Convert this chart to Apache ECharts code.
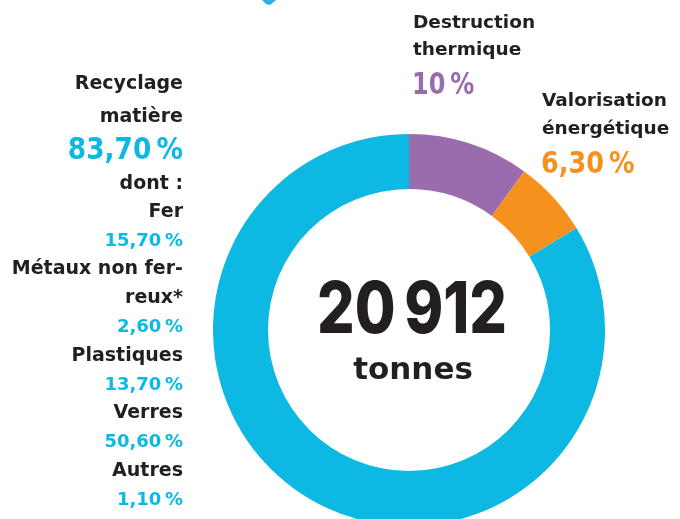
<!DOCTYPE html>
<html><head><meta charset="utf-8">
<script src="https://cdn.jsdelivr.net/npm/echarts@6/dist/echarts.min.js"></script>
<style>html,body{margin:0;padding:0;background:#fff}#c{width:680px;height:519px}</style>
</head><body><div id="c"></div>
<script>
// Data
const categories = ['Destruction thermique', 'Valorisation énergétique', 'Recyclage matière'];
const shares = [10, 6.3, 83.7];
const colors = ['#9B6CAD', '#F5921E', '#0DB8E2'];
const totalTonnes = '20\u2009912';
const totalUnit = 'tonnes';
const subCategories = ['Fer', 'Métaux non fer-\nreux*', 'Plastiques', 'Verres', 'Autres'];
const subShares = [15.7, 2.6, 13.7, 50.6, 1.1];

const DARK = '#231F20';
const FONT = '"DejaVu Sans", sans-serif';
function pct(v) {
  const s = Number.isInteger(v) ? String(v) : v.toFixed(2).replace('.', ',');
  return s + '\u202F%';
}
function txt(x, y, text, size, color, align, sx, family, weight) {
  return { type: 'text', x: x, y: y, scaleX: sx || 1, style: { text: text, fontSize: size, fontWeight: weight || 'bold', fontFamily: family || FONT, fill: color, textAlign: align, textVerticalAlign: 'middle' } };
}
function fitScale(text, font, target) {
  const ctx = document.createElement('canvas').getContext('2d');
  ctx.font = font;
  const w = ctx.measureText(text).width;
  return Math.min(1, target / w);
}

const g = [];
// left block (right aligned)
const LX = 183;
const leftLines = [
  ['Recyclage', 84, 19, DARK, 1],
  ['matière', 117, 19, DARK, 1],
  [pct(shares[2]), 151, 30, colors[2], 0.88],
  ['dont :', 184, 19, DARK, 1]
];
let y = 212;
subCategories.forEach((name, i) => {
  name.split('\n').forEach(part => { leftLines.push([part, y, 19, DARK, 1]); y += 29; });
  leftLines.push([pct(subShares[i]), y, 18, colors[2], 1]); y += 28.5;
});
leftLines.forEach(l => g.push(txt(LX, l[1], l[0], l[2], l[3], 'right', l[4])));
// right labels
g.push(txt(413, 23, 'Destruction', 18.5, DARK, 'left'));
g.push(txt(413, 50, 'thermique', 18.5, DARK, 'left'));
g.push(txt(412, 86, pct(shares[0]), 30, colors[0], 'left', 0.8));
g.push(txt(542, 101, 'Valorisation', 18.5, DARK, 'left'));
g.push(txt(542, 129, 'énergétique', 18.5, DARK, 'left'));
g.push(txt(541, 165, pct(shares[1]), 30, colors[1], 'left', 0.85));
// center
const numFont = 'Inter, Roboto, sans-serif';
const numScale = fitScale(totalTonnes, '800 71px ' + numFont, 190);
g.push(txt(412, 312, totalTonnes, 71, DARK, 'center', numScale, numFont, 800));
g.push(txt(413, 371, totalUnit, 31, DARK, 'center'));
// small decoration at top
g.push({ type: 'polygon', shape: { points: [[262, 0], [276, 0], [270, 5], [266, 4]] }, style: { fill: '#2BB0DE' } });

const chart = echarts.init(document.getElementById('c'), null, { renderer: 'canvas' });
chart.setOption({
  animation: false,
  series: [{
    type: 'pie',
    center: [409, 330],
    radius: [141, 196],
    startAngle: 90,
    clockwise: true,
    label: { show: false },
    labelLine: { show: false },
    itemStyle: { borderWidth: 0 },
    emphasis: { disabled: true },
    data: categories.map((n, i) => ({ name: n, value: shares[i], itemStyle: { color: colors[i] } }))
  }],
  graphic: g
});
</script></body></html>
